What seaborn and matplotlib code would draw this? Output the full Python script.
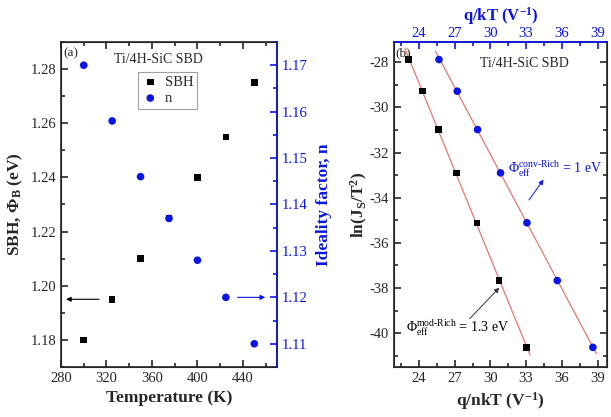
import numpy as np
import pandas as pd
import matplotlib
matplotlib.use("Agg")
import matplotlib.pyplot as plt
import seaborn as sns
from matplotlib.ticker import MultipleLocator

# panel (a): temperature dependence
temperature = [300, 325, 350, 375, 400, 425, 450]
sbh = [1.180, 1.195, 1.210, 1.225, 1.240, 1.255, 1.275]
ideality = [1.170, 1.158, 1.146, 1.137, 1.128, 1.120, 1.110]

# panel (b): Richardson plots
ln_js_t2 = [-27.88, -29.28, -30.98, -32.90, -35.11, -37.67, -40.63]
q_nkt = [23.10, 24.28, 25.65, 27.13, 28.86, 30.73, 33.03]
q_kt = [25.68, 27.21, 28.92, 30.85, 33.07, 35.62, 38.61]

BLUE = "#0a14e6"
LINE_RED = "#e8766f"

sns.set_style("ticks")
plt.rcParams["font.family"] = ["Liberation Serif", "DejaVu Serif"]
plt.rcParams["mathtext.fontset"] = "custom"
plt.rcParams["mathtext.rm"] = "Liberation Serif"
plt.rcParams["mathtext.it"] = "Liberation Serif:italic"
plt.rcParams["mathtext.bf"] = "Liberation Serif:bold"
plt.rcParams["xtick.direction"] = "in"
plt.rcParams["ytick.direction"] = "in"
plt.rcParams["axes.unicode_minus"] = False

fig = plt.figure(figsize=(6.11, 4.17), dpi=100)
ax1 = fig.add_axes([0.0998, 0.1199, 0.3536, 0.7794])
ax2 = fig.add_axes([0.6449, 0.1199, 0.3486, 0.7794])

# ---------- panel (a)
df_a = pd.DataFrame({"T": temperature, "SBH": sbh, "n": ideality})
sns.scatterplot(data=df_a, x="T", y="SBH", ax=ax1, marker="s", color="black",
                s=22, edgecolor="none", label="SBH", legend=False)
ax1r = ax1.twinx()
sns.scatterplot(data=df_a, x="T", y="n", ax=ax1r, marker="o", color=BLUE,
                s=30, edgecolor="none", label="n", legend=False)

ax1.set_xlim(280, 470)
ax1.set_ylim(1.17, 1.29)
ax1r.set_ylim(1.105, 1.175)
ax1.xaxis.set_major_locator(MultipleLocator(40))
ax1.xaxis.set_minor_locator(MultipleLocator(20))
ax1.yaxis.set_major_locator(MultipleLocator(0.02))
ax1.yaxis.set_minor_locator(MultipleLocator(0.01))
ax1r.yaxis.set_major_locator(MultipleLocator(0.01))
ax1r.yaxis.set_minor_locator(MultipleLocator(0.005))
ax1.yaxis.set_major_formatter(plt.FormatStrFormatter("%.2f"))
ax1r.yaxis.set_major_formatter(plt.FormatStrFormatter("%.2f"))
ax1.tick_params(axis="both", which="both", top=True, labelsize=10.5, width=1.2)
ax1.tick_params(which="major", length=5)
ax1.tick_params(which="minor", length=3)
ax1r.tick_params(axis="y", which="both", colors=BLUE, labelsize=10.5, width=1.2)
ax1r.tick_params(which="major", length=5)
ax1r.tick_params(which="minor", length=3)
ax1r.spines["right"].set_color(BLUE)
for sp in ax1.spines.values():
    sp.set_linewidth(1.2)
ax1r.spines["right"].set_linewidth(1.2)

ax1.set_xlabel("Temperature (K)", fontsize=12.5, fontweight="bold")
ax1.set_ylabel(r"SBH, $\mathbf{\Phi_B}$ (eV)", fontsize=12.5, fontweight="bold", labelpad=4)
ax1r.set_ylabel("Ideality factor, n", fontsize=12.5, fontweight="bold", color=BLUE, labelpad=6)

h1, l1 = ax1.get_legend_handles_labels()
h2, l2 = ax1r.get_legend_handles_labels()
leg = ax1r.legend(h1 + h2, l1 + l2, loc="upper left", bbox_to_anchor=(0.356, 0.908),
                  borderaxespad=0, fontsize=10.5, frameon=True, fancybox=False,
                  edgecolor="#888888", handletextpad=0.4, borderpad=0.25,
                  labelspacing=0.2, handlelength=1.2)
leg.get_frame().set_linewidth(0.8)

ax1.text(0.01, 0.985, "(a)", transform=ax1.transAxes, fontsize=9.5, va="top", ha="left")
ax1.text(0.45, 0.965, "Ti/4H-SiC SBD", transform=ax1.transAxes, fontsize=10,
         va="top", ha="center")
ax1.annotate("", xy=(282, 1.195), xytext=(316, 1.195),
             arrowprops=dict(arrowstyle="-|>", color="black", lw=0.8, mutation_scale=7))
ax1r.annotate("", xy=(462, 1.12), xytext=(433, 1.12),
              arrowprops=dict(arrowstyle="-|>", color=BLUE, lw=0.8, mutation_scale=7))

# ---------- panel (b)
df_b = pd.DataFrame({"ln": ln_js_t2, "qnkt": q_nkt, "qkt": q_kt})
for xcol in ["qnkt", "qkt"]:
    k, b = np.polyfit(df_b[xcol], df_b["ln"], 1)
    xs = np.array([df_b[xcol].min() - 0.3, df_b[xcol].max() + 0.3])
    sns.lineplot(x=xs, y=k * xs + b, ax=ax2, color=LINE_RED, lw=0.9)
sns.scatterplot(data=df_b, x="qnkt", y="ln", ax=ax2, marker="s", color="black",
                s=22, edgecolor="none", zorder=3)
sns.scatterplot(data=df_b, x="qkt", y="ln", ax=ax2, marker="o", color=BLUE,
                s=30, edgecolor="none", zorder=3)

ax2.set_xlim(21.9, 39.8)
ax2.set_ylim(-41.5, -27.1)
ax2.xaxis.set_major_locator(MultipleLocator(3))
ax2.xaxis.set_minor_locator(MultipleLocator(1.5))
ax2.yaxis.set_major_locator(MultipleLocator(2))
ax2.yaxis.set_minor_locator(MultipleLocator(1))
ax2.tick_params(axis="both", which="both", right=True, labelsize=10.5, width=1.2)
ax2.tick_params(which="major", length=5)
ax2.tick_params(which="minor", length=3)
for sp in ax2.spines.values():
    sp.set_linewidth(1.2)

ax2t = ax2.twiny()
ax2t.set_xlim(ax2.get_xlim())
ax2t.xaxis.set_major_locator(MultipleLocator(3))
ax2t.xaxis.set_minor_locator(MultipleLocator(1.5))
ax2t.tick_params(axis="x", which="both", colors=BLUE, labelsize=10.5, width=1.2, pad=1.5)
ax2t.tick_params(which="major", length=5)
ax2t.tick_params(which="minor", length=3)
ax2t.spines["top"].set_color(BLUE)
ax2t.spines["top"].set_linewidth(1.2)
ax2t.set_xlabel(r"q/kT (V$^{\mathbf{-1}}$)", fontsize=12, fontweight="bold",
                color=BLUE, labelpad=4.5)

ax2.set_xlabel(r"q/nkT (V$^{\mathbf{-1}}$)", fontsize=12.5, fontweight="bold")
ax2.set_ylabel(r"ln(J$_{\mathbf{S}}$/T$^{\mathbf{2}}$)", fontsize=12.5, fontweight="bold",
               labelpad=0)

ax2.text(0.005, 0.985, "(b)", transform=ax2.transAxes, fontsize=9.5, va="top", ha="left")
ax2.text(0.61, 0.955, "Ti/4H-SiC SBD", transform=ax2.transAxes, fontsize=10,
         va="top", ha="center")
ax2.text(31.5, -32.7, "$\\Phi_{\\rm eff}^{\\rm conv\u2010Rich}$ = 1 eV", color=BLUE,
         fontsize=10, va="center", ha="left")
ax2.annotate("", xy=(34.6, -33.1), xytext=(33.1, -34.2),
             arrowprops=dict(arrowstyle="-|>", color=BLUE, lw=0.7, mutation_scale=7))
ax2.text(22.9, -39.75, "$\\Phi_{\\rm eff}^{\\rm mod\u2010Rich}$ = 1.3 eV", color="black",
         fontsize=10, va="center", ha="left")
ax2.annotate("", xy=(30.9, -37.9), xytext=(28.1, -39.45),
             arrowprops=dict(arrowstyle="-|>", color="#333333", lw=0.7, mutation_scale=7))

fig.savefig("out.png", dpi=100)
